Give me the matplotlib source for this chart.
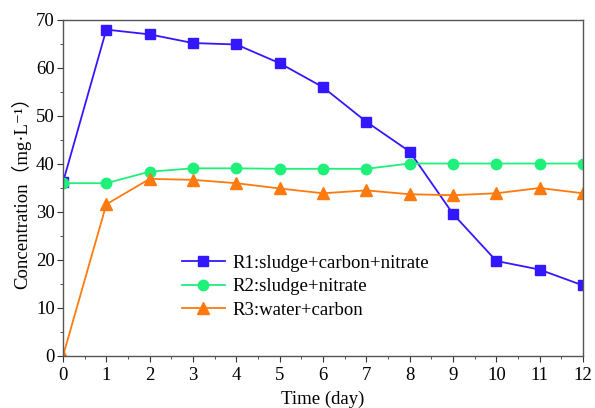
import matplotlib
matplotlib.use("Agg")
import matplotlib.pyplot as plt
from matplotlib.ticker import MultipleLocator

days = [0, 1, 2, 3, 4, 5, 6, 7, 8, 9, 10, 11, 12]
r1 = [36.2, 68.0, 67.0, 65.2, 64.9, 61.0, 56.0, 48.8, 42.6, 29.6, 19.8, 18.0, 14.7]
r2 = [36.0, 36.0, 38.4, 39.1, 39.1, 39.0, 39.0, 39.0, 40.1, 40.1, 40.1, 40.1, 40.1]
r3 = [0.0, 31.6, 36.9, 36.7, 36.0, 34.9, 33.9, 34.5, 33.7, 33.5, 33.9, 35.0, 33.9]
labels = ["R1:sludge+carbon+nitrate", "R2:sludge+nitrate", "R3:water+carbon"]

plt.rcParams['font.family'] = ['Liberation Serif', 'Noto Sans CJK SC', 'DejaVu Sans']
plt.rcParams['font.size'] = 13.5

fig = plt.figure(figsize=(5.95, 4.08), dpi=100)
ax = fig.add_axes([63/595, 52/408, 520/595, 336/408])

ax.plot(days, r1, color='#3318FF', marker='s', markersize=7.5, lw=1.3, label=labels[0])
ax.plot(days, r2, color='#1EF07A', marker='o', markersize=7.5, lw=1.3, label=labels[1])
ax.plot(days, r3, color='#FF7A0E', marker='^', markersize=8, lw=1.3, label=labels[2])

ax.set_xlim(0, 12)
ax.set_ylim(0, 70)
ax.xaxis.set_major_locator(MultipleLocator(1))
ax.xaxis.set_minor_locator(MultipleLocator(0.5))
ax.yaxis.set_major_locator(MultipleLocator(10))
ax.yaxis.set_minor_locator(MultipleLocator(5))
ax.tick_params(which='both', direction='out', top=False, right=False, color='#333333')
ax.tick_params(axis='y', pad=2)
ax.tick_params(axis='x', pad=4)
ax.tick_params(which='major', length=4)
ax.tick_params(which='minor', length=2.5)
for s in ax.spines.values():
    s.set_color('#555555')
    s.set_linewidth(1.0)

ax.set_xlabel('Time (day)', labelpad=5)
ax.set_ylabel('Concentration（mg·L⁻¹）', labelpad=3)

ax.legend(loc='upper left', bbox_to_anchor=(0.21, 0.33), frameon=False,
          handlelength=2.3, handletextpad=0.4, labelspacing=0.35, borderpad=0)

fig.savefig('out.png', dpi=100)
